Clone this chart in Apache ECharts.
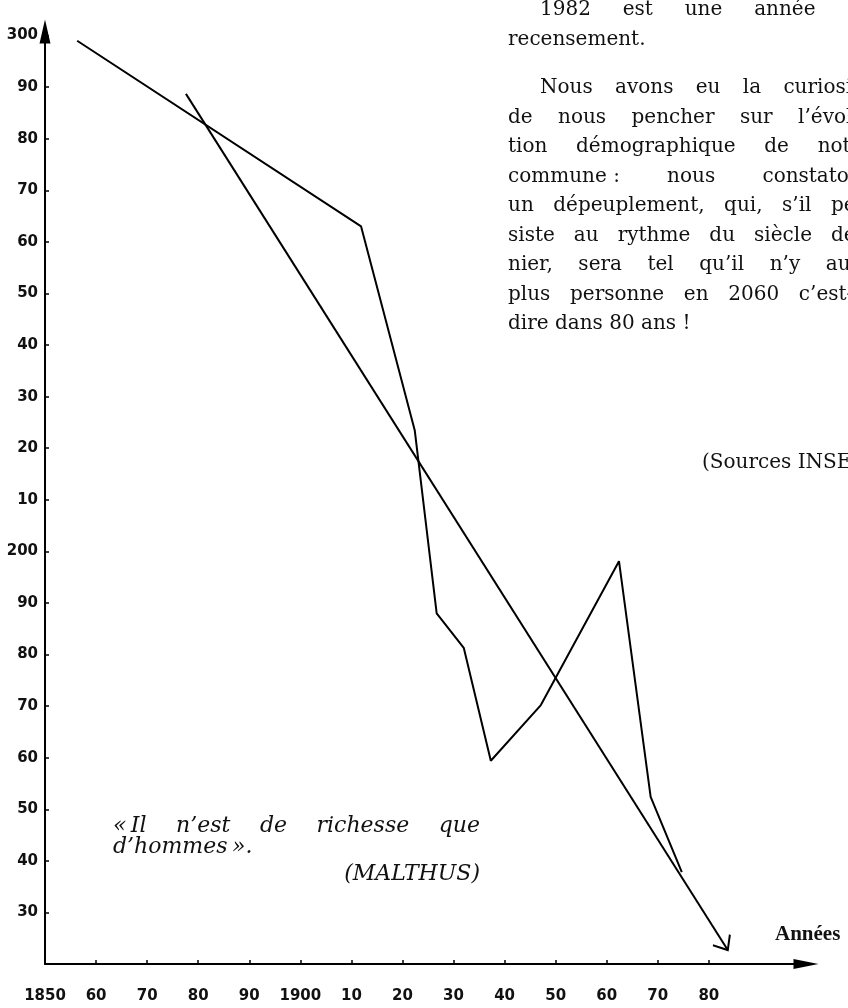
<!DOCTYPE html>
<html><head><meta charset="utf-8">
<script src="https://cdn.jsdelivr.net/npm/echarts@6/dist/echarts.min.js"></script>
<style>html,body{margin:0;padding:0;background:#fff}#c{width:848px;height:1008px}</style>
</head><body><div id="c"></div>
<script>
// ---- data ----
const xTickValues = [1850,1860,1870,1880,1890,1900,1910,1920,1930,1940,1950,1960,1970,1980];
const xTickLabels = ['1850','60','70','80','90','1900','10','20','30','40','50','60','70','80'];
const yTickValues = [130,140,150,160,170,180,190,200,210,220,230,240,250,260,270,280,290,300];
const yTickLabels = ['30','40','50','60','70','80','90','200','10','20','30','40','50','60','70','80','90','300'];
const censusYears = [1856.3, 1911.9, 1922.4, 1926.7, 1932.0, 1937.3, 1947.1, 1962.4, 1968.6, 1974.7];
const population  = [299, 263, 223.5, 188, 181.3, 159.4, 170.2, 198.1, 152.4, 137.8];
const trendYears  = [1877.6, 1983.7];
const trendValues = [288.7, 122.7];

const chart = echarts.init(document.getElementById('c'), null, {renderer: 'canvas'});

const labelFont = {fontFamily: 'DejaVu Sans', fontWeight: 'bold', fontSize: 15, color: '#111'};
const bodyFont = '20px "DejaVu Serif"';
const quoteFont = 'italic 22px "DejaVu Serif"';

const measureCtx = document.createElement('canvas').getContext('2d');
function measure(font, s) { measureCtx.font = font; return measureCtx.measureText(s).width; }

const graphics = [];
function addText(x, y, text, font, align) {
  graphics.push({type: 'text', x: x, y: y, silent: true,
    style: {text: text, font: font, fill: '#111', verticalAlign: 'middle', align: align || 'left'}});
}
// justified line: words spread from left to right edge
function addJustified(words, left, right, y, font) {
  const widths = words.map(w => measure(font, w));
  const total = widths.reduce((a, b) => a + b, 0);
  const minGap = measure(font, ' ');
  const gap = words.length > 1 ? Math.max(minGap, (right - left - total) / (words.length - 1)) : 0;
  let x = left;
  words.forEach((w, i) => { addText(x, y, w, font); x += widths[i] + gap; });
}

const colRight = 872;
const para = [
  {y: 10,  left: 540, just: true,  text: ['1982','est','une','année','de']},
  {y: 40,  left: 508, just: false, text: ['recensement.']},
  {y: 88,  left: 540, just: true,  text: ['Nous','avons','eu','la','curiosité']},
  {y: 117.5, left: 508, just: true, text: ['de','nous','pencher','sur','l’évolu-']},
  {y: 147, left: 508, just: true,  text: ['tion','démographique','de','notre']},
  {y: 176.5, left: 508, just: true, text: ['commune\u00a0:','nous','constatons']},
  {y: 206, left: 508, just: true,  text: ['un','dépeuplement,','qui,','s’il','per-']},
  {y: 235.5, left: 508, just: true, text: ['siste','au','rythme','du','siècle','der-']},
  {y: 265, left: 508, just: true,  text: ['nier,','sera','tel','qu’il','n’y','aura']},
  {y: 294.5, left: 508, just: true, text: ['plus','personne','en','2060','c’est-à-']},
  {y: 324, left: 508, just: false, text: ['dire dans 80 ans\u00a0!']}
];
para.forEach(l => {
  if (l.just) addJustified(l.text, l.left, colRight, l.y, bodyFont);
  else addText(l.left, l.y, l.text.join(' '), bodyFont);
});
addText(702, 463, '(Sources INSEE)', bodyFont);
addJustified(['«\u2009Il','n’est','de','richesse','que'], 113, 480, 826, quoteFont);
addText(113, 847, 'd’hommes\u2009».', quoteFont);
addText(480, 874, '(MALTHUS)', quoteFont, 'right');
addText(775, 935, 'Années', 'bold 21px "Liberation Serif"');

const option = {
  animation: false,
  backgroundColor: '#fff',
  grid: {left: 45, right: 37, top: 35.6, bottom: 44, containLabel: false, outerBoundsMode: 'none'},
  xAxis: {
    type: 'value', min: 1850, max: 2000, interval: 10,
    axisLine: {show: true, lineStyle: {color: '#000', width: 2},
      symbol: ['none', 'triangle'], symbolSize: [10, 25], symbolOffset: [0, -5]},
    axisTick: {show: true, inside: true, length: 4, customValues: xTickValues, lineStyle: {color: '#000', width: 1.5}},
    axisLabel: Object.assign({margin: 25, customValues: xTickValues,
      formatter: v => { const i = xTickValues.indexOf(v); return i >= 0 ? xTickLabels[i] : ''; }}, labelFont),
    splitLine: {show: false}
  },
  yAxis: {
    type: 'value', min: 120, max: 300, interval: 10,
    axisLine: {show: true, lineStyle: {color: '#000', width: 2},
      symbol: ['none', 'triangle'], symbolSize: [11, 24], symbolOffset: [0, 4]},
    axisTick: {show: true, inside: true, length: 4, customValues: yTickValues, lineStyle: {color: '#000', width: 1.5}},
    axisLabel: Object.assign({margin: 7, customValues: yTickValues,
      formatter: v => { const i = yTickValues.indexOf(v); return i >= 0 ? yTickLabels[i] : ''; }}, labelFont),
    splitLine: {show: false}
  },
  graphic: graphics,
  series: [
    {
      type: 'line', silent: true, symbol: 'none',
      lineStyle: {color: '#000', width: 2},
      data: censusYears.map((y, i) => [y, population[i]])
    },
    {
      type: 'line', silent: true, symbol: 'none', showSymbol: true,
      lineStyle: {color: '#000', width: 2},
      data: trendYears.map((y, i) => i === trendYears.length - 1 ? {
        value: [y, trendValues[i]],
        symbol: 'path://M0,0 L10,12 L20,0 M10,24 L10,24',
        symbolSize: [20, 24], symbolRotate: 32,
        itemStyle: {color: 'rgba(0,0,0,0)', borderColor: '#000', borderWidth: 2}
      } : {value: [y, trendValues[i]]})
    }
  ]
};
chart.setOption(option);
</script></body></html>
